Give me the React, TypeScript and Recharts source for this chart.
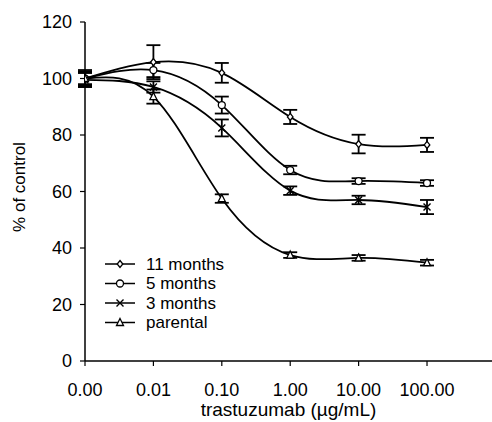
import { LineChart, Line, XAxis, YAxis, ErrorBar } from "recharts";

const doseLabels = ["0.00", "0.01", "0.10", "1.00", "10.00", "100.00"];
const yTicks = [0, 20, 40, 60, 80, 100, 120];

// % of control
const months11 = [100, 105.8, 102, 86.4, 76.8, 76.5];
const months11Err = [3, 6, 3.5, 2.5, 3.3, 2.5];
const months5 = [100, 103, 90.6, 67.6, 63.7, 63];
const months5Err = [2.5, 2.5, 3, 1.5, 1, 1];
const months3 = [99.5, 97, 82.5, 60.3, 57, 54.5];
const months3Err = [2.5, 2, 3, 1.5, 1.5, 2.5];
const parental = [100, 93.6, 57.5, 37.5, 36.5, 34.8];
const parentalErr = [2, 2.5, 1.5, 1, 1, 1];

const series = [
  { key: "m11", name: "11 months", marker: "diamond" },
  { key: "m5", name: "5 months", marker: "circle" },
  { key: "m3", name: "3 months", marker: "cross" },
  { key: "par", name: "parental", marker: "triangle" },
];

const data = doseLabels.map((d, i) => ({
  x: i,
  dose: d,
  m11: months11[i],
  m11e: months11Err[i],
  m5: months5[i],
  m5e: months5Err[i],
  m3: months3[i],
  m3e: months3Err[i],
  par: parental[i],
  pare: parentalErr[i],
}));

const font = "'Liberation Sans', Arial, Helvetica, sans-serif";

function Marker({ kind, cx, cy }: { kind: string; cx: number; cy: number }) {
  const s = 3.5;
  if (kind === "circle")
    return <circle cx={cx} cy={cy} r={s} fill="#fff" stroke="#000" strokeWidth={1.3} />;
  if (kind === "cross")
    return (
      <path
        d={`M${cx - s},${cy - s}L${cx + s},${cy + s}M${cx - s},${cy + s}L${cx + s},${cy - s}`}
        stroke="#000"
        strokeWidth={1.4}
      />
    );
  if (kind === "triangle")
    return (
      <path
        d={`M${cx},${cy - s - 0.5}L${cx + s},${cy + s - 0.5}L${cx - s},${cy + s - 0.5}Z`}
        fill="#fff"
        stroke="#000"
        strokeWidth={1.3}
      />
    );
  return (
    <path
      d={`M${cx},${cy - s}L${cx + s * 0.8},${cy}L${cx},${cy + s}L${cx - s * 0.8},${cy}Z`}
      fill="#fff"
      stroke="#000"
      strokeWidth={1.3}
    />
  );
}

function ChartLegend() {
  return (
    <svg
      width={160}
      height={90}
      style={{ position: "absolute", left: 100, top: 254 }}
    >
      {series.map((s, i) => {
        const y = 10 + i * 19.5;
        return (
          <g key={s.key}>
            <line x1={5} x2={35} y1={y} y2={y} stroke="#000" strokeWidth={1.5} />
            <Marker kind={s.marker} cx={20} cy={y} />
            <text
              x={46}
              y={y}
              dominantBaseline="central"
              fontSize={17}
              fontFamily={font}
              fill="#000"
            >
              {s.name}
            </text>
          </g>
        );
      })}
    </svg>
  );
}

export default function App() {
  return (
    <div
      style={{
        position: "absolute",
        left: 0,
        top: 0,
        width: 492,
        height: 422,
        background: "#fff",
        fontFamily: font,
      }}
    >
      <LineChart
        width={492}
        height={422}
        data={data}
        margin={{ top: 22, right: 0, bottom: 0, left: 0 }}
      >
        <XAxis
          dataKey="x"
          type="number"
          domain={[0, 5.95]}
          ticks={[0, 1, 2, 3, 4, 5]}
          tickFormatter={(v: number) => doseLabels[v]}
          allowDataOverflow
          height={61}
          tickSize={5}
          tickMargin={17}
          axisLine={{ stroke: "#000", strokeWidth: 1.5 }}
          tickLine={{ stroke: "#000", strokeWidth: 1.2 }}
          tick={{ fill: "#000", fontSize: 18, fontFamily: font }}
          label={{
            value: "trastuzumab (µg/mL)",
            position: "insideBottom",
            offset: 6,
            fill: "#000",
            fontSize: 19,
            fontFamily: font,
          }}
        />
        <YAxis
          domain={[0, 120]}
          ticks={yTicks}
          width={85}
          tickSize={5}
          tickMargin={8}
          axisLine={{ stroke: "#000", strokeWidth: 1.5 }}
          tickLine={{ stroke: "#000", strokeWidth: 1.2 }}
          tick={{ fill: "#000", fontSize: 18, fontFamily: font }}
          label={{
            content: () => (
              <text
                transform="translate(25,187) rotate(-90)"
                textAnchor="middle"
                fontSize={17}
                fontFamily={font}
                fill="#000"
              >
                % of control
              </text>
            ),
          }}
        />
        {series.map((s) => (
          <Line
            key={s.key}
            dataKey={s.key}
            name={s.name}
            type="natural"
            stroke="#000"
            strokeWidth={1.8}
            isAnimationActive={false}
            dot={(p: any) => (
              <Marker key={`${s.key}-${p.index}`} kind={s.marker} cx={p.cx} cy={p.cy} />
            )}
            activeDot={false}
          >
            <ErrorBar
              dataKey={`${s.key}e`}
              width={7}
              stroke="#000"
              strokeWidth={1.8}
              direction="y"
            />
          </Line>
        ))}
      </LineChart>
      <ChartLegend />
    </div>
  );
}
